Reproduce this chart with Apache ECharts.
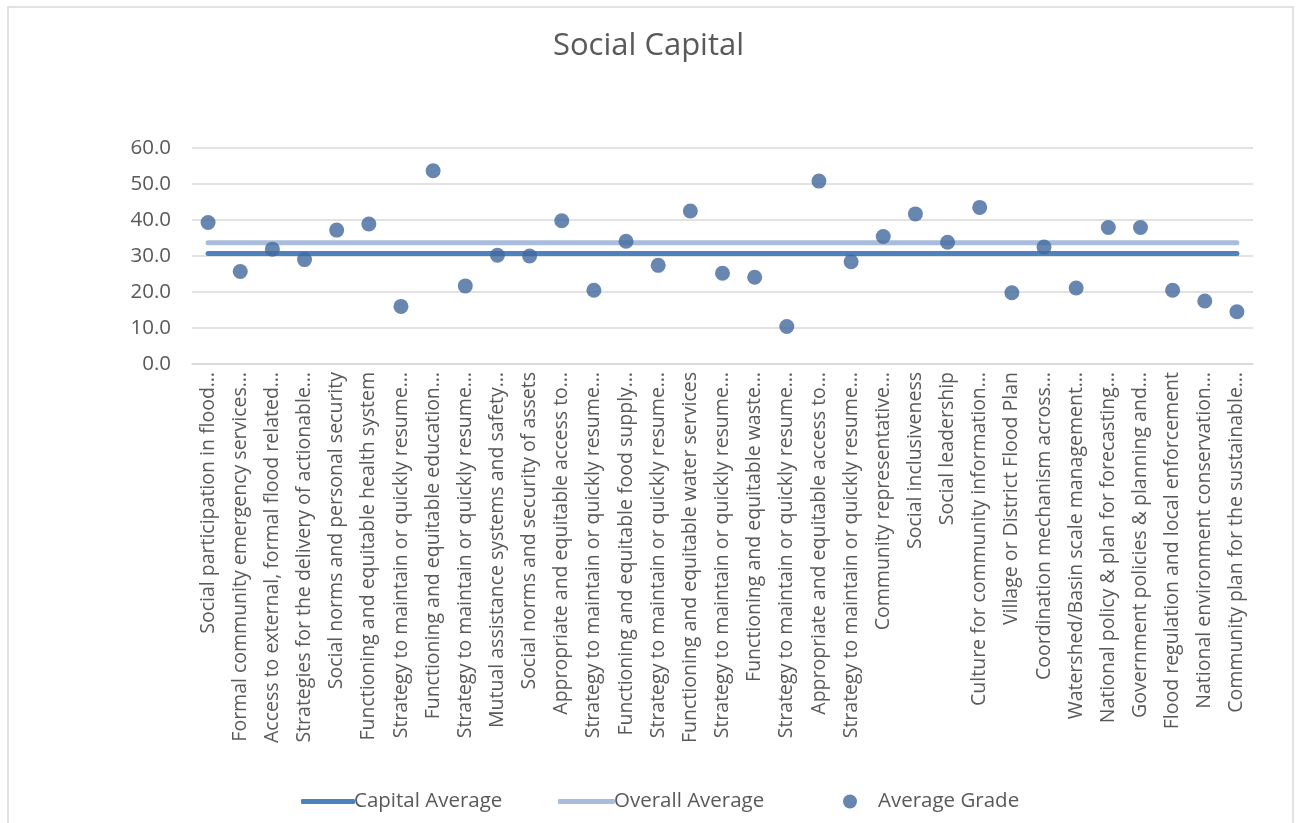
<!DOCTYPE html>
<html>
<head>
<meta charset="utf-8">
<script src="https://cdn.jsdelivr.net/npm/echarts@6/dist/echarts.min.js"></script>
<style>
  html, body { margin: 0; padding: 0; background: #ffffff; }
  #chart { width: 1297px; height: 823px; }
</style>
</head>
<body>
<div id="chart"></div>
<script>
// Indicator names (as shown, truncated where the axis cuts them)
const categories = [
  'Social participation in flood…',
  'Formal community emergency services…',
  'Access to external, formal flood related…',
  'Strategies for the delivery of actionable…',
  'Social norms and personal security',
  'Functioning and equitable health system',
  'Strategy to maintain or quickly resume…',
  'Functioning and equitable education…',
  'Strategy to maintain or quickly resume…',
  'Mutual assistance systems and safety…',
  'Social norms and security of assets',
  'Appropriate and equitable access to…',
  'Strategy to maintain or quickly resume…',
  'Functioning and equitable food supply…',
  'Strategy to maintain or quickly resume…',
  'Functioning and equitable water services',
  'Strategy to maintain or quickly resume…',
  'Functioning and equitable waste…',
  'Strategy to maintain or quickly resume…',
  'Appropriate and equitable access to…',
  'Strategy to maintain or quickly resume…',
  'Community representative…',
  'Social inclusiveness',
  'Social leadership',
  'Culture for community information…',
  'Village or District Flood Plan',
  'Coordination mechanism across…',
  'Watershed/Basin scale management…',
  'National policy & plan for forecasting…',
  'Government policies & planning and…',
  'Flood regulation and local enforcement',
  'National environment conservation…',
  'Community plan for the sustainable…'
];

// Average grade per indicator
const averageGrade = [
  39.3, 25.7, 31.9, 29.0, 37.2, 38.9, 16.0, 53.7, 21.7, 30.2, 30.0,
  39.8, 20.5, 34.1, 27.4, 42.5, 25.2, 24.1, 10.4, 50.8, 28.4, 35.4,
  41.7, 33.8, 43.5, 19.8, 32.5, 21.1, 37.9, 37.9, 20.5, 17.5, 14.5
];

// Reference levels
const capitalAverage = 30.7;
const overallAverage = 33.7;

// Y axis ticks
const yTicks = [0, 10, 20, 30, 40, 50, 60];

const FONT = '"Open Sans", sans-serif';
const TEXT = '#595959';

// Each average is a flat line running from the first to the last indicator
const flatLine = v => [[0, v], [categories.length - 1, v]];

const chart = echarts.init(document.getElementById('chart'), null, { renderer: 'canvas' });

chart.setOption({
  backgroundColor: '#ffffff',
  animation: false,
  title: {
    text: 'Social Capital',
    left: 'center',
    top: 26,
    textStyle: { fontFamily: FONT, fontSize: 31, fontWeight: 'normal', color: TEXT }
  },
  graphic: [{
    type: 'rect',
    shape: { x: 8, y: 7, width: 1285, height: 840 },
    style: { fill: 'none', stroke: '#d9d9d9', lineWidth: 1.5 },
    silent: true
  }],
  legend: [
    {
      data: [{ name: 'Capital Average', icon: 'roundRect' }],
      left: 296, top: 786,
      itemWidth: 54, itemHeight: 5, itemGap: 0,
      textStyle: { fontFamily: FONT, fontSize: 20.5, color: TEXT, padding: [0, 0, 0, -6] }
    },
    {
      data: [{ name: 'Overall Average', icon: 'roundRect' }],
      left: 553, top: 786,
      itemWidth: 57, itemHeight: 5, itemGap: 0,
      textStyle: { fontFamily: FONT, fontSize: 20.5, color: TEXT, padding: [0, 0, 0, -6] }
    },
    {
      data: [{ name: 'Average Grade', icon: 'circle' }],
      left: 838, top: 786,
      itemWidth: 14, itemHeight: 14, itemGap: 0,
      textStyle: { fontFamily: FONT, fontSize: 20.5, color: TEXT, padding: [0, 0, 0, 16] }
    }
  ],
  grid: { left: 192, right: 44, top: 148, bottom: 459, containLabel: false },
  xAxis: {
    type: 'category',
    data: categories,
    boundaryGap: true,
    axisLine: { show: true, lineStyle: { color: '#d9d9d9', width: 1.5 } },
    axisTick: { show: false },
    axisLabel: {
      interval: 0,
      rotate: 90,
      margin: 8,
      fontFamily: FONT,
      fontSize: 19.5,
      color: TEXT,
      padding: [0, 0, 0, 0]
    },
    splitLine: { show: false }
  },
  yAxis: {
    type: 'value',
    min: yTicks[0],
    max: yTicks[yTicks.length - 1],
    interval: 10,
    axisLine: { show: false },
    axisTick: { show: false },
    axisLabel: {
      margin: 21,
      fontFamily: FONT,
      fontSize: 20.5,
      color: TEXT,
      formatter: v => v.toFixed(1)
    },
    splitLine: { lineStyle: { color: '#d9d9d9', width: 1.5 } }
  },
  series: [
    {
      name: 'Capital Average',
      type: 'line',
      data: flatLine(capitalAverage),
      symbol: 'none',
      color: '#4f81bd',
      lineStyle: { color: '#4f81bd', width: 5, cap: 'round' },
      z: 2
    },
    {
      name: 'Overall Average',
      type: 'line',
      data: flatLine(overallAverage),
      symbol: 'none',
      color: '#a9bcdc',
      lineStyle: { color: '#a9bcdc', width: 5, cap: 'round' },
      z: 1
    },
    {
      name: 'Average Grade',
      type: 'scatter',
      data: averageGrade,
      symbol: 'circle',
      symbolSize: 15,
      itemStyle: { color: '#41699c' },
      z: 3
    }
  ]
});
</script>
</body>
</html>
